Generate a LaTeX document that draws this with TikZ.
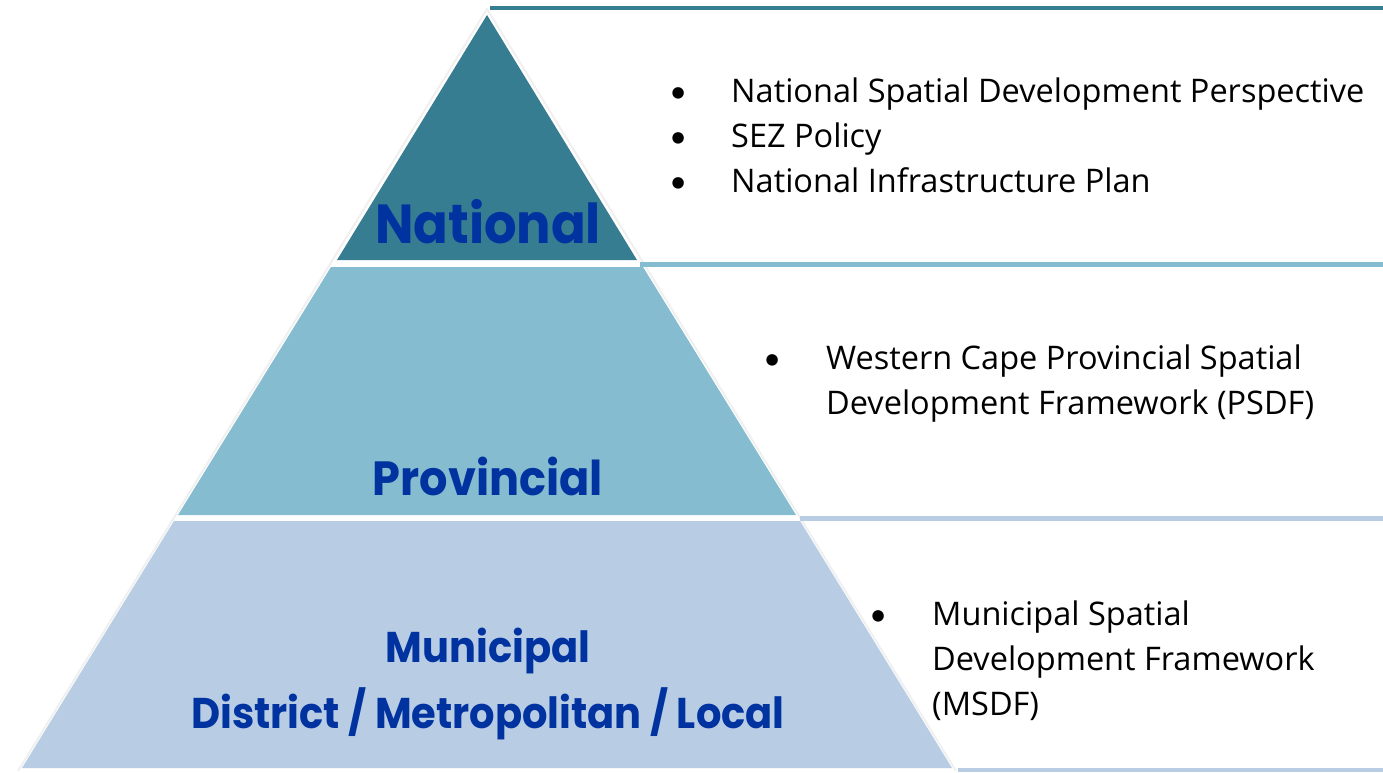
\documentclass[tikz,border=0pt]{standalone}
\usepackage{fontspec}
\setmainfont{Open Sans}
\newfontfamily\tierfont[FakeStretch=0.93]{Poppins}
\newfontfamily\bulletfont{Carlito}
\definecolor{natfill}{HTML}{367D91}
\definecolor{provfill}{HTML}{85BCCF}
\definecolor{munfill}{HTML}{B8CDE4}
\definecolor{tiertext}{HTML}{0033A0}
\newcommand{\planbullet}{{\bulletfont\textbullet}}
\tikzset{
  tierlabel/.style={text=tiertext, anchor=base, inner sep=0pt},
  planlist/.style={anchor=base west, inner sep=0pt, font=\fontsize{32.5}{45}\selectfont},
  tierrule/.style={line width=5pt}
}
\begin{document}
\begin{tikzpicture}[x=1pt,y=-1pt]
  \useasboundingbox (0,0) rectangle (1383,772);
  \draw[gray!12, line width=2pt] (18,771) -- (487,9) -- (956,771);
  \fill[natfill] (487,15) -- (637,260) -- (337,260) -- cycle;
  \fill[provfill] (331,267) -- (643,267) -- (796,515) -- (178,515) -- cycle;
  \fill[munfill] (174,521) -- (800,521) -- (952,768) -- (22,768) -- cycle;
  \draw[tierrule, natfill, line width=4pt] (490,8) -- (1383,8);
  \draw[tierrule, provfill] (640,264) -- (1383,264);
  \draw[tierrule, munfill] (800,518) -- (1383,518);
  \draw[tierrule, munfill, line width=4pt] (958,770) -- (1383,770);
  \node[tierlabel, font=\tierfont\bfseries\fontsize{55}{60}\selectfont] (national) at (488,243) {National};
  \node[tierlabel, font=\tierfont\bfseries\fontsize{48}{54}\selectfont] (provincial) at (488,495) {Provincial};
  \node[tierlabel, font=\tierfont\bfseries\fontsize{43}{48}\selectfont] (municipal) at (488,662) {Municipal};
  \node[tierlabel, font=\tierfont\bfseries\fontsize{43}{48}\selectfont] (district) at (488,728) {District / Metropolitan / Local};
  \node[planlist] (natplans) at (670,102) {\begin{tabular}[t]{@{}p{61pt}@{}l@{}}
    \planbullet & National Spatial Development Perspective\\
    \planbullet & SEZ Policy\\
    \planbullet & National Infrastructure Plan
  \end{tabular}};
  \node[planlist] (provplans) at (764,369) {\begin{tabular}[t]{@{}p{62pt}@{}l@{}}
    \planbullet & Western Cape Provincial Spatial\\
    & Development Framework (PSDF)
  \end{tabular}};
  \node[planlist] (munplans) at (870,625) {\begin{tabular}[t]{@{}p{62pt}@{}l@{}}
    \planbullet & Municipal Spatial\\
    & Development Framework\\
    & (MSDF)
  \end{tabular}};
\end{tikzpicture}
\end{document}
